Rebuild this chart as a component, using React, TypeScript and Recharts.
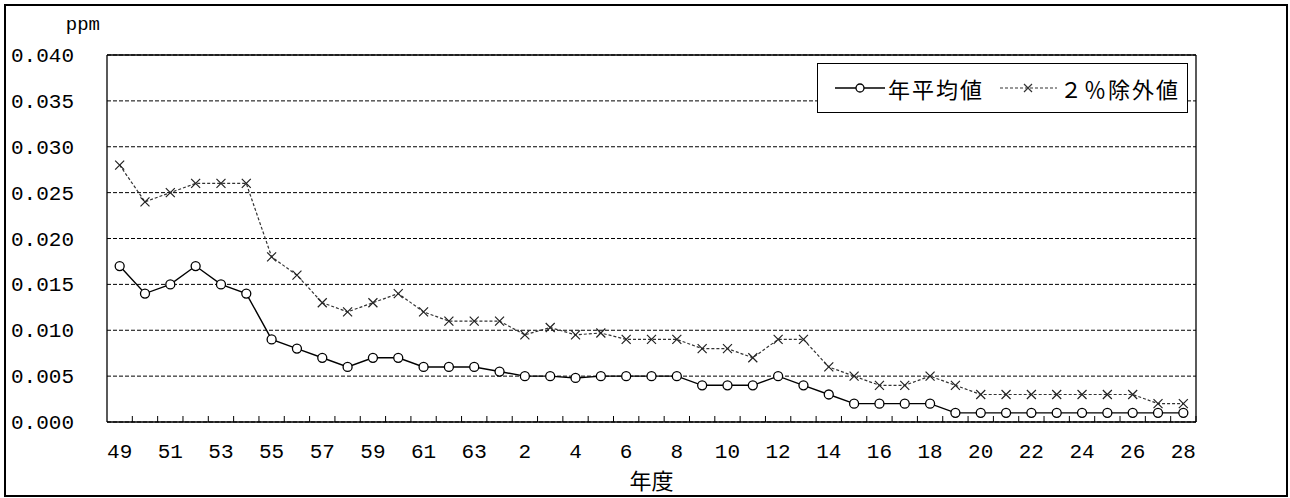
import React from 'react';
import { LineChart, Line, XAxis, YAxis, CartesianGrid, Legend } from 'recharts';

// 年度: 昭和49〜63, 平成元〜28
const years = [
  '49', '50', '51', '52', '53', '54', '55', '56', '57', '58', '59', '60', '61', '62', '63',
  '元', '2', '3', '4', '5', '6', '7', '8', '9', '10', '11', '12', '13', '14', '15', '16', '17',
  '18', '19', '20', '21', '22', '23', '24', '25', '26', '27', '28'
];

const annualMean = [
  0.017, 0.014, 0.015, 0.017, 0.015, 0.014, 0.009, 0.008, 0.007, 0.006, 0.007, 0.007, 0.006, 0.006, 0.006,
  0.0055, 0.005, 0.005, 0.0048, 0.005, 0.005, 0.005, 0.005, 0.004, 0.004, 0.004, 0.005, 0.004, 0.003, 0.002, 0.002, 0.002,
  0.002, 0.001, 0.001, 0.001, 0.001, 0.001, 0.001, 0.001, 0.001, 0.001, 0.001
];

const excluded2pct = [
  0.028, 0.024, 0.025, 0.026, 0.026, 0.026, 0.018, 0.016, 0.013, 0.012, 0.013, 0.014, 0.012, 0.011, 0.011,
  0.011, 0.0095, 0.0103, 0.0095, 0.0097, 0.009, 0.009, 0.009, 0.008, 0.008, 0.007, 0.009, 0.009, 0.006, 0.005, 0.004, 0.004,
  0.005, 0.004, 0.003, 0.003, 0.003, 0.003, 0.003, 0.003, 0.003, 0.002, 0.002
];

const yTicks = [0, 0.005, 0.01, 0.015, 0.02, 0.025, 0.03, 0.035, 0.04];

const data = years.map((year, i) => ({ year, mean: annualMean[i], excl: excluded2pct[i] }));

const W = 1290;
const H = 498;
const margin = { top: 54, right: 93, left: 0, bottom: 0 };
const Y_AXIS_W = 107;
const X_AXIS_H = 76;
const PLOT_BOTTOM = H - X_AXIS_H;
const BAND = (W - margin.right - 1 - Y_AXIS_W) / years.length;

const NUM_FONT = '"Liberation Mono", monospace';
const JP_FONT = '"Noto Sans CJK JP", sans-serif';
const frame = { stroke: '#000', strokeWidth: 1.3 };

const XTick = (props: any) => {
  const { x, index, payload } = props;
  return (
    <g>
      <line x1={x + BAND / 2} x2={x + BAND / 2} y1={PLOT_BOTTOM} y2={PLOT_BOTTOM - 6} stroke="#000" />
      {index % 2 === 0 && (
        <text x={x} y={458} textAnchor="middle" fontFamily={NUM_FONT} fontSize={21} fill="#000">
          {payload.value}
        </text>
      )}
    </g>
  );
};

const YTick = (props: any) => {
  const { y, payload } = props;
  return (
    <text x={74} y={y} dy={7} textAnchor="end" fontFamily={NUM_FONT} fontSize={21} fill="#000">
      {Number(payload.value).toFixed(3)}
    </text>
  );
};

const UnitLabel = () => (
  <text x={100} y={30} textAnchor="end" fontFamily={NUM_FONT} fontSize={19} fill="#000">
    ppm
  </text>
);

const CrossDot = (props: any) => {
  const { cx, cy } = props;
  if (cx == null || cy == null) return null;
  const s = 4.5;
  return (
    <path
      d={`M${cx - s},${cy - s}L${cx + s},${cy + s}M${cx + s},${cy - s}L${cx - s},${cy + s}`}
      stroke="#222"
      strokeWidth={1.2}
      fill="none"
    />
  );
};

const renderLegend = () => (
  <div style={{
    boxSizing: 'border-box', width: 371, height: 50, border: '1px solid #000', background: '#fff',
    display: 'flex', alignItems: 'center', paddingLeft: 17, fontFamily: JP_FONT, fontSize: 22,
    letterSpacing: 2, color: '#000'
  }}>
    <svg width={50} height={12} style={{ marginRight: 3 }}>
      <line x1={0} x2={50} y1={6} y2={6} stroke="#000" strokeWidth={1.4} />
      <circle cx={25} cy={6} r={4} fill="#fff" stroke="#000" strokeWidth={1.3} />
    </svg>
    <span style={{ marginRight: 16 }}>年平均値</span>
    <svg width={57} height={12} style={{ marginRight: 3 }}>
      <line x1={0} x2={57} y1={6} y2={6} stroke="#333" strokeWidth={1.2} strokeDasharray="3 2" />
      <path d="M24,2L32,10M32,2L24,10" stroke="#333" strokeWidth={1.2} />
    </svg>
    <span>２％除外値</span>
  </div>
);

const App = () => {
  return (
    <div style={{ position: 'relative', width: W, height: H, background: '#fff' }}>
      <style>{'body{margin:0}'}</style>
      <div style={{
        position: 'absolute', left: 4, top: 4, width: 1284, height: 493,
        boxSizing: 'border-box', border: '2px solid #000', pointerEvents: 'none'
      }} />
      <LineChart width={W} height={H} data={data} margin={margin}>
        <CartesianGrid vertical={false} stroke="#000" strokeDasharray="4 2" />
        <XAxis
          dataKey="year"
          interval={0}
          height={X_AXIS_H}
          padding={{ left: BAND / 2, right: BAND / 2 }}
          axisLine={frame}
          tickLine={false}
          tick={<XTick />}
          label={{ value: '年度', position: 'insideBottom', offset: 9, fontFamily: JP_FONT, fontSize: 22, fill: '#000' }}
        />
        <XAxis
          xAxisId="top"
          orientation="top"
          dataKey="year"
          height={1}
          padding={{ left: BAND / 2, right: BAND / 2 }}
          axisLine={frame}
          tick={false}
          tickLine={false}
        />
        <YAxis
          width={Y_AXIS_W}
          domain={[0, 0.04]}
          ticks={yTicks}
          axisLine={frame}
          tickLine={false}
          tick={<YTick />}
          label={<UnitLabel />}
        />
        <YAxis
          yAxisId="right"
          orientation="right"
          width={1}
          domain={[0, 0.04]}
          ticks={yTicks}
          axisLine={frame}
          tick={false}
          tickLine={false}
        />
        <Legend layout="horizontal" verticalAlign="middle" align="center" content={renderLegend}
          wrapperStyle={{ left: 817, top: 63, width: 371, height: 50 }} />
        <Line
          dataKey="excl"
          xAxisId="top"
          yAxisId="right"
          name="２％除外値"
          stroke="#333"
          strokeWidth={1.2}
          strokeDasharray="3 2"
          dot={<CrossDot />}
          activeDot={false}
          isAnimationActive={false}
        />
        <Line
          dataKey="mean"
          name="年平均値"
          stroke="#000"
          strokeWidth={1.4}
          dot={{ r: 4.5, fill: '#fff', stroke: '#000', strokeWidth: 1.3 }}
          activeDot={false}
          isAnimationActive={false}
        />
      </LineChart>
    </div>
  );
};

export default App;
